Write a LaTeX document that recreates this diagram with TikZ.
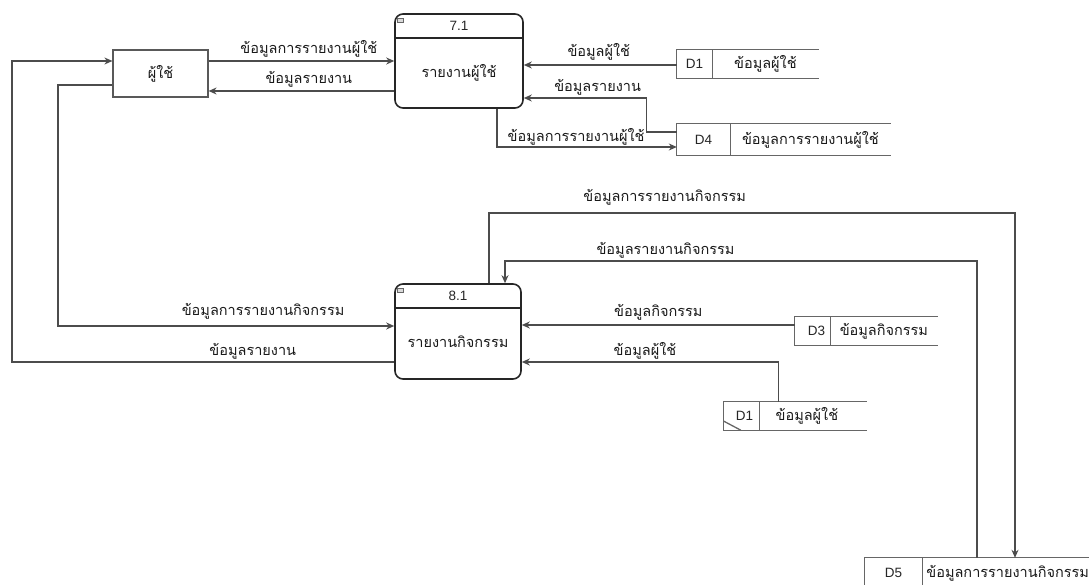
\documentclass[tikz,border=0pt]{standalone}
\usepackage{fontspec}
\setmainfont{Liberation Sans}
\newfontfamily\thaifont[Script=Thai]{Loma}
\usetikzlibrary{arrows.meta,positioning,calc}

\tikzset{
  flow/.style={draw=black!70, line width=1.1pt, -{Stealth[length=8pt,width=7pt]}},
  flowtext/.style={font=\thaifont\fontsize{14.5}{16}\selectfont, text=black!90, inner sep=1pt},
  proctitle/.style={font=\fontsize{13.5}{15}\selectfont, text=black!85, inner sep=1pt},
  process/.style={draw=black!85, line width=1.6pt, rounded corners=8pt},
  procline/.style={draw=black!85, line width=1.4pt},
  procicon/.style={draw=black!60, fill=black!15, line width=0.6pt},
  entity/.style={draw=black!65, line width=1.2pt, minimum width=95pt, minimum height=47pt,
    font=\thaifont\fontsize{14.5}{16}\selectfont, text=black!90},
  storeid/.style={inner sep=0pt, font=\fontsize{13.5}{15}\selectfont, text=black!85},
  storetext/.style={inner sep=0pt, font=\thaifont\fontsize{14.5}{16}\selectfont, text=black!90},
  storeline/.style={draw=black!60, line width=1.3pt},
}

\begin{document}
\begin{tikzpicture}[x=1pt, y=-1pt]
  \useasboundingbox (0,0) rectangle (1089,585);

  % external entity
  \node[entity] (user) at (160.5,73.5) {ผู้ใช้};

  % process 7.1
  \node[process, minimum width=128pt, minimum height=94pt] (p71) at (459,61) {};
  \node[proctitle] (p71t) at (459,26) {7.1};
  \node[flowtext] (p71b) at (459,73) {รายงานผู้ใช้};
  \draw[procline] (p71.west |- 0,38) -- (p71.east |- 0,38);
  \draw[procicon] ($(p71.north west)+(3,5)$) rectangle ++(6,4);

  % process 8.1
  \node[process, minimum width=126pt, minimum height=95pt] (p81) at (458,331.5) {};
  \node[proctitle] (p81t) at (458,296) {8.1};
  \node[flowtext] (p81b) at (458,342) {รายงานกิจกรรม};
  \draw[procline] (p81.west |- 0,308) -- (p81.east |- 0,308);
  \draw[procicon] ($(p81.north west)+(3,5)$) rectangle ++(6,4);

  % data store D1 (top)
  \node[storeid, minimum width=35pt, minimum height=28pt] (d1a) at (694.5,64) {D1};
  \node[storetext, minimum width=106pt, minimum height=28pt, right=0pt of d1a] (d1at) {ข้อมูลผู้ใช้};
  \draw[storeline] (d1at.north east) -- (d1a.north west) -- (d1a.south west) -- (d1at.south east);
  \draw[storeline] (d1a.north east) -- (d1a.south east);

  % data store D4
  \node[storeid, minimum width=53pt, minimum height=31pt] (d4) at (703.5,139.5) {D4};
  \node[storetext, minimum width=160pt, minimum height=31pt, right=0pt of d4] (d4t) {ข้อมูลการรายงานผู้ใช้};
  \draw[storeline] (d4t.north east) -- (d4.north west) -- (d4.south west) -- (d4t.south east);
  \draw[storeline] (d4.north east) -- (d4.south east);

  % data store D3
  \node[storeid, minimum width=35pt, minimum height=28pt] (d3) at (812.5,331) {\hspace*{8pt}D3};
  \node[storetext, minimum width=107pt, minimum height=28pt, right=0pt of d3] (d3t) {ข้อมูลกิจกรรม};
  \draw[storeline] (d3t.north east) -- (d3.north west) -- (d3.south west) -- (d3t.south east);
  \draw[storeline] (d3.north east) -- (d3.south east);

  % data store D1 (duplicate)
  \node[storeid, minimum width=35pt, minimum height=28pt] (d1b) at (741.5,416) {\hspace*{6pt}D1};
  \node[storetext, minimum width=107pt, minimum height=28pt, right=0pt of d1b] (d1bt) {ข้อมูลผู้ใช้\hspace*{12pt}};
  \draw[storeline] (d1bt.north east) -- (d1b.north west) -- (d1b.south west) -- (d1bt.south east);
  \draw[storeline] (d1b.north east) -- (d1b.south east);
  \draw[storeline] ($(d1b.south west)+(0,-9)$) -- ($(d1b.south west)+(17,0)$);

  % data store D5
  \node[storeid, minimum width=57pt, minimum height=30pt] (d5) at (893.5,573) {D5};
  \node[storetext, minimum width=188pt, minimum height=30pt, text width=180pt, align=left,
    right=0pt of d5] (d5t) {ข้อมูลการรายงานกิจกรรม};
  \draw[storeline] (d5t.north east) -- (d5.north west) -- (d5.south west) -- (d5t.south east);
  \draw[storeline] (d5.north east) -- (d5.south east);

  % bends
  \coordinate (c5a) at (1015,213);
  \coordinate (c5b) at (977,261);
  \coordinate (cl1) at (58,326);
  \coordinate (cl2) at (12,362);

  % flows of 7.1
  \draw[flow] (user.east |- 0,61) -- node[flowtext, above=2pt, pos=0.54] {ข้อมูลการรายงานผู้ใช้} (p71.west |- 0,61);
  \draw[flow] (p71.west |- 0,91) -- node[flowtext, above=2pt, pos=0.46] {ข้อมูลรายงาน} (user.east |- 0,91);
  \draw[flow] (d1a.west |- 0,65) -- node[flowtext, above=3pt, pos=0.51] {ข้อมูลผู้ใช้} (p71.east |- 0,65);
  \draw[flow] (d4.west |- 0,132) -- ++(-30,0) |- node[flowtext, above=1pt, pos=0.7] {ข้อมูลรายงาน} (p71.east |- 0,98);
  \draw[flow] ([xshift=38pt]p71.south) |- node[flowtext, above=0pt, pos=0.72] {ข้อมูลการรายงานผู้ใช้} (d4.west |- 0,147);

  % flows of 8.1
  \draw[flow] ([xshift=31pt]p81.north) |- node[flowtext, above=6pt, pos=0.667] {ข้อมูลการรายงานกิจกรรม} (c5a) -- (c5a |- d5t.north);
  \draw[flow] (c5b |- d5t.north) -- (c5b) -| node[flowtext, above=1pt, pos=0.33] {ข้อมูลรายงานกิจกรรม} ([xshift=47pt]p81.north);
  \draw[flow] (d3.west |- 0,325) -- node[flowtext, above=3pt, pos=0.5] {ข้อมูลกิจกรรม} (p81.east |- 0,325);
  \draw[flow] ([xshift=-34.5pt]d1bt.north) |- node[flowtext, above=1pt, pos=0.76] {ข้อมูลผู้ใช้} (p81.east |- 0,362);
  \draw[flow] (user.west |- 0,85) -| (cl1) -- node[flowtext, above=5pt, pos=0.61] {ข้อมูลการรายงานกิจกรรม} (p81.west |- cl1);
  \draw[flow] (p81.west |- cl2) -- node[flowtext, above=1pt, pos=0.37] {ข้อมูลรายงาน} (cl2) |- (user.west |- 0,61);
\end{tikzpicture}
\end{document}
